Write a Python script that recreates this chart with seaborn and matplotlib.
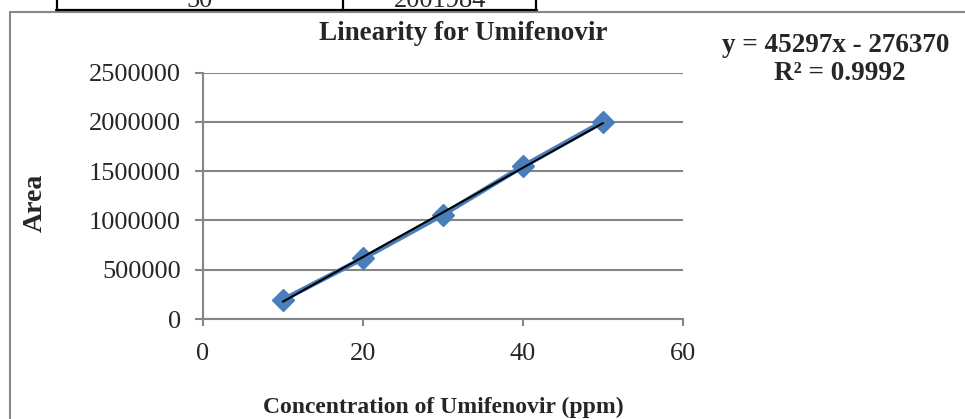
import numpy as np
import pandas as pd
import matplotlib
matplotlib.use("Agg")
import matplotlib.pyplot as plt
from matplotlib.patches import Rectangle
from matplotlib.lines import Line2D
import seaborn as sns

# ---- data ----
conc = [10, 20, 30, 40, 50]
area = [195000, 615000, 1060000, 1550000, 2001984]
slope = 45297
intercept = -276370
r_squared = 0.9992
x_ticks = [0, 20, 40, 60]
y_ticks = [0, 500000, 1000000, 1500000, 2000000, 2500000]
y_tick_labels = ["0", "500000", "1000000", "1500000", "2000000", "2500000"]
table_cells = ["50", "2001984"]
title = "Linearity for Umifenovir"
x_label = "Concentration of Umifenovir (ppm)"
y_label = "Area"

sns.set_theme(style="white")
plt.rcParams["font.family"] = ["Liberation Serif", "DejaVu Serif"]

W, H = 965, 419
fig = plt.figure(figsize=(W / 100, H / 100), dpi=100)


def fx(px):
    return px / W


def fy(py):
    return 1 - py / H


grey = "#868686"
blue = "#4A7EBB"

ax = fig.add_axes([fx(203), fy(319), fx(683) - fx(203), fy(72.7) - fy(319)])

df = pd.DataFrame({"conc": conc, "area": area})
sns.lineplot(data=df, x="conc", y="area", ax=ax, color=blue, lw=3.6,
             marker="D", markersize=11, markeredgecolor=blue,
             markeredgewidth=1, zorder=3)

tx = np.array([min(conc), max(conc)], dtype=float)
ty = slope * tx + intercept
sns.lineplot(x=tx, y=ty, ax=ax, color="black", lw=1.5, zorder=4)

ax.set_xlim(0, 60)
ax.set_ylim(0, 2500000)
ax.set_xticks(x_ticks)
ax.set_xticklabels([str(t) for t in x_ticks])
ax.set_yticks(y_ticks)
ax.set_yticklabels(y_tick_labels)
ax.set_xlabel("")
ax.set_ylabel("")
ax.yaxis.grid(True, color=grey, lw=1.5)
ax.xaxis.grid(False)
for s in ["top", "right"]:
    ax.spines[s].set_visible(False)
for s in ["left", "bottom"]:
    ax.spines[s].set_color(grey)
    ax.spines[s].set_linewidth(1.5)
ax.tick_params(axis="y", length=6, width=1.5, color=grey, pad=10,
               labelsize=19, left=True, direction="out")
ax.tick_params(axis="x", length=5, width=1.5, color=grey, pad=12,
               labelsize=19, bottom=True, direction="out")

# texts
fig.text(fx(463), fy(33), title, ha="center", va="center",
         fontsize=19.5, fontweight="bold")
fig.text(fx(836), fy(45), f"y = {slope}x - {abs(intercept)}", ha="center",
         va="center", fontsize=19.5, fontweight="bold")
fig.text(fx(840), fy(73), f"R² = {r_squared}", ha="center", va="center",
         fontsize=19.5, fontweight="bold")
fig.text(fx(35), fy(203), y_label, ha="center", va="center", rotation=90,
         fontsize=20, fontweight="bold")
fig.text(fx(443), fy(407), x_label, ha="center", va="center",
         fontsize=17, fontweight="bold")

# chart border
fig.patches.append(Rectangle((fx(10), fy(1000)), fx(2000), fy(12) - fy(1000),
                             transform=fig.transFigure, fill=False,
                             edgecolor="#878787", lw=1.5, clip_on=False))

# table fragment at top (cut off by the image edge, as in the reference)
for xx in [57, 343, 536]:
    fig.add_artist(Line2D([fx(xx), fx(xx)], [fy(-2), fy(10)],
                          transform=fig.transFigure, color="black", lw=1.6))
fig.add_artist(Line2D([fx(56), fx(537)], [fy(10), fy(10)],
                      transform=fig.transFigure, color="black", lw=1.6))
fig.text(fx(200), fy(7), table_cells[0], ha="center", va="baseline",
         fontsize=19)
fig.text(fx(440), fy(7), table_cells[1], ha="center", va="baseline",
         fontsize=19)

fig.savefig("out.png", dpi=100)
